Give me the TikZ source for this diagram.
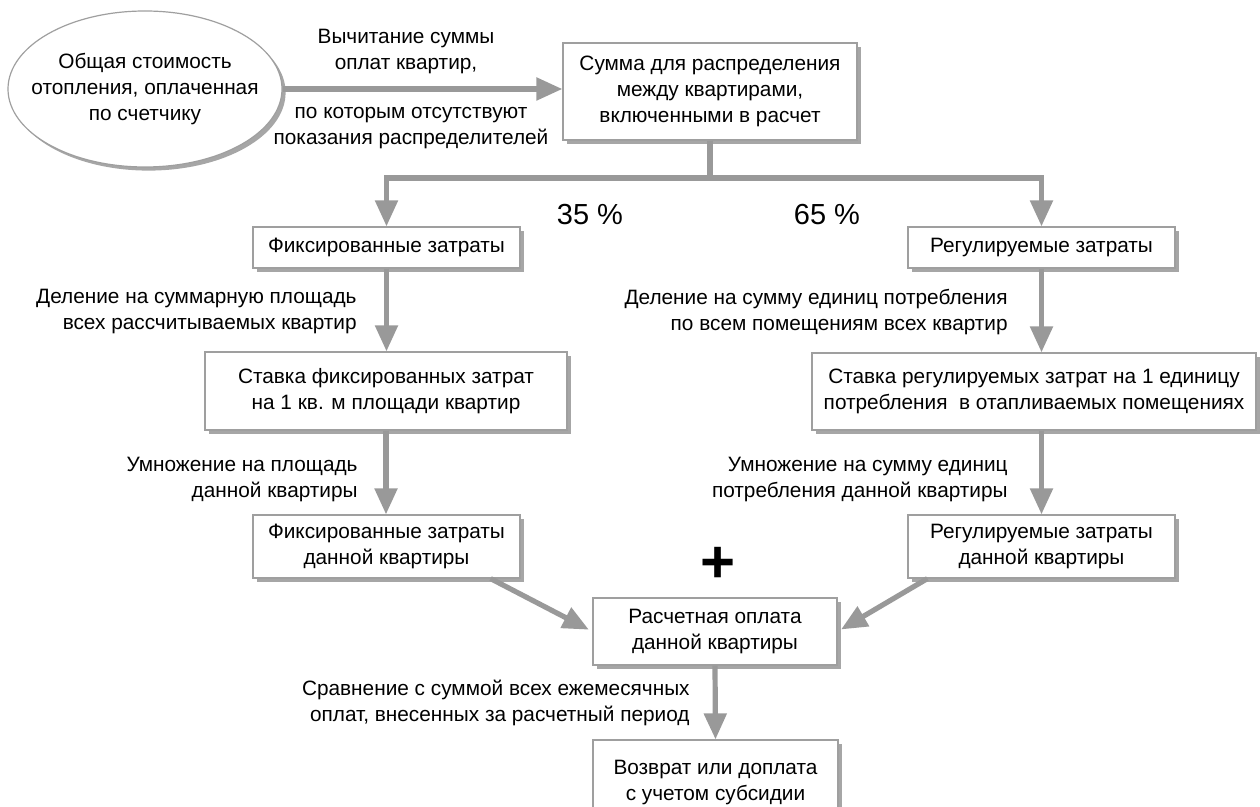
\documentclass[tikz,border=0pt]{standalone}
\usepackage{fontspec}
\setmainfont{Liberation Sans}
\usetikzlibrary{arrows.meta,shapes.geometric,shadows}

\begin{document}
\begin{tikzpicture}[x=.5pt,y=-.5pt,
    font=\fontsize{10.4}{13}\selectfont,
    box/.style={draw=gray!75, line width=.6pt, fill=white, align=center,
      inner sep=0pt, drop shadow={shadow xshift=1.8pt, shadow yshift=-1.8pt,
      fill=gray!70, opacity=1}},
    flow/.style={draw=gray!80, line width=2.6pt,
      -{Triangle[length=13pt,width=11pt]}},
    note/.style={align=right, anchor=east, inner sep=0pt},
    pct/.style={font=\fontsize{14.5}{16}\selectfont}]
  \useasboundingbox (0,0) rectangle (1260,807);

  \node [box, ellipse, inner xsep=-12pt, inner ysep=0pt,
    minimum width=137pt, minimum height=78pt] (cost) at (145,89)
    {Общая стоимость\\отопления, оплаченная\\по счетчику};
  \node [box, minimum width=147pt, minimum height=48.5pt] (sum) at (710,91.5)
    {Сумма для распределения\\между квартирами,\\включенными в расчет};

  \node [box, minimum width=133.5pt, minimum height=20.5pt] (fix) at (386.5,247.5)
    {Фиксированные затраты};
  \node [box, minimum width=133.5pt, minimum height=20.5pt] (reg) at (1041.5,247.5)
    {Регулируемые затраты};

  \node [box, minimum width=181pt, minimum height=39pt] (fixrate) at (386,391)
    {Ставка фиксированных затрат\\на 1 кв. м площади квартир};
  \node [box, minimum width=222pt, minimum height=38.5pt] (regrate) at (1034,391.5)
    {Ставка регулируемых затрат на 1 единицу\\потребления \ в отапливаемых помещениях};

  \node [box, minimum width=133.5pt, minimum height=31.5pt] (fixflat) at (386.5,546.5)
    {Фиксированные затраты\\данной квартиры};
  \node [box, minimum width=133.5pt, minimum height=31.5pt] (regflat) at (1041.5,546.5)
    {Регулируемые затраты\\данной квартиры};

  \node [box, minimum width=122pt, minimum height=33.5pt] (calc) at (715,631.5)
    {Расчетная оплата\\данной квартиры};
  \node [box, minimum width=122.5pt, minimum height=40pt, text depth=0pt] (result) at (715.5,780)
    {Возврат или доплата\\с учетом субсидии};

  % connectors
  \draw [flow] (cost.east |- 0,89) -- (sum.west |- 0,89);
  \coordinate (split) at (710,178);
  \draw [flow, -] (sum.south) -- (split);
  \draw [flow] (split) -| (fix.north);
  \draw [flow] (split) -| (reg.north);
  \draw [flow] (fix.south) -- (fixrate.north -| fix.south);
  \draw [flow] (reg.south) -- (regrate.north -| reg.south);
  \draw [flow] (fixrate.south) -- (fixflat.north -| fixrate.south);
  \draw [flow] (regflat.north |- regrate.south) -- (regflat.north);
  \draw [flow, shorten >=2pt] ([xshift=-15pt]fixflat.south east) -- (calc.west);
  \draw [flow, shorten >=2pt] ([xshift=10pt]regflat.south west) -- (calc.east);
  \draw [flow] (calc.south) -- (result.north);

  % labels
  \node [align=center] (subtop) at (406,52) {Вычитание суммы\\оплат квартир,};
  \node [align=center] (subbot) at (411,128) {по которым отсутствуют\\показания распределителей};
  \node [pct] (left) at (590,215) {35 \%};
  \node [pct] (right) at (827,215) {65 \%};
  \node [note] (divfix) at (357,312) {Деление на суммарную площадь\\всех рассчитываемых квартир};
  \node [note] (divreg) at (1008,312) {Деление на сумму единиц потребления\\по всем помещениям всех квартир};
  \node [note] (mulfix) at (358,480) {Умножение на площадь\\данной квартиры};
  \node [note] (mulreg) at (1008,480) {Умножение на сумму единиц\\потребления данной квартиры};
  \node [note] (cmp) at (690,703) {Сравнение с суммой всех ежемесячных\\оплат, внесенных за расчетный период};
  \node [font=\fontsize{30}{30}\selectfont\bfseries] (plus) at (718,565) {+};
\end{tikzpicture}
\end{document}
